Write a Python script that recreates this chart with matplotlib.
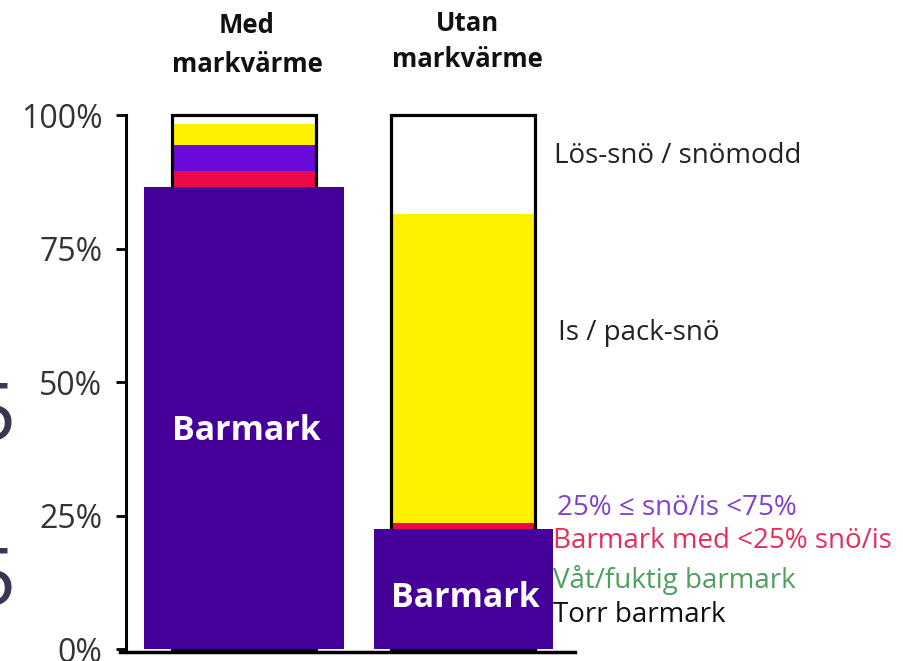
import matplotlib
matplotlib.use("Agg")
import matplotlib.pyplot as plt
import numpy as np

plt.rcParams['font.family'] = ['Open Sans', 'DejaVu Sans']

# ---------------- data ----------------
categories = ["Med\nmarkvärme", "Utan\nmarkvärme"]
barmark = [86.5, 22.5]          # Torr / våt barmark (wide dark bar)
red_seg = [3.0, 1.1]            # Barmark med <25% snö/is
purple_seg = [4.8, 0.0]         # 25% <= snö/is < 75%
yellow_seg = [4.0, 57.8]        # Is / pack-snö
white_seg = [1.7, 18.6]         # Lös-snö / snömodd
yticks = [0, 25, 50, 75, 100]
ytick_labels = ["0%", "25%", "50%", "75%", "100%"]
legend_labels = ["Lös-snö / snömodd", "Is / pack-snö", "25% ≤ snö/is <75%",
                 "Barmark med <25% snö/is", "Våt/fuktig barmark", "Torr barmark"]

# ---------------- style ----------------
W, H = 904, 661
C_BAR = "#46009A"
C_PURPLE = "#6A0ADA"
C_RED = "#EC0A4C"
C_YELLOW = "#FFF200"
wide_w = [0.909, 0.817]
narrow_w = 0.658

fig = plt.figure(figsize=(W / 100, H / 100), dpi=100)
ax = fig.add_axes([120 / W, 9 / H, 455 / W, 545 / H])
ax.set_xlim(-0.566, 1.511)
ax.set_ylim(-0.56, 101.5)

x = np.arange(len(categories))
bottom = np.array(barmark, dtype=float)
for seg, col in [(red_seg, C_RED), (purple_seg, C_PURPLE),
                 (yellow_seg, C_YELLOW), (white_seg, "white")]:
    ax.bar(x, seg, width=narrow_w, bottom=bottom, color=col, zorder=1, linewidth=0)
    bottom = bottom + np.array(seg)
# outline box
ax.bar(x, bottom, width=narrow_w, fill=False, edgecolor="black", linewidth=2.3, zorder=2)
# wide barmark bars
ax.bar(x, barmark, width=wide_w, color=C_BAR, zorder=3, linewidth=0)

# Barmark labels
for xi, yv in zip(x, [39.1, 7.9]):
    ax.text(xi + 0.01, yv, "Barmark", color="white", fontsize=24.5, fontweight="bold",
            ha="center", va="baseline", zorder=4)

# axes styling
for s in ["top", "right"]:
    ax.spines[s].set_visible(False)
ax.spines["left"].set_position(("axes", 6 / 455))
ax.spines["left"].set_bounds(-0.56, 100)
ax.spines["left"].set_linewidth(2.2)
ax.spines["bottom"].set_linewidth(2.5)
ax.set_xticks([])
ax.set_yticks(yticks)
ax.set_yticklabels(ytick_labels, fontsize=23, color="#333333")
ax.tick_params(axis="y", length=7, width=2, pad=10)
for lbl in ax.get_yticklabels():
    lbl.set_y(lbl.get_position()[1])

# headers
hdr_x = [247, 467]
hdr_base = [[33, 72], [31, 67]]
for cat, hx, hb in zip(categories, hdr_x, hdr_base):
    lines = cat.split("\n")
    for ln, yb in zip(lines, hb):
        fig.text(hx / W, 1 - yb / H, ln, ha="center", va="baseline",
                 fontsize=18.5, fontweight="bold", color="#111111")

# right-hand labels
lab_pos = [(554, 163), (558, 340), (557, 515), (553, 548), (553, 588), (553, 622)]
lab_col = ["#222222", "#222222", "#8040D4", "#E2305A", "#4FA060", "#111111"]
for t, (lx, ly), c in zip(legend_labels, lab_pos, lab_col):
    fig.text(lx / W, 1 - ly / H, t, ha="left", va="baseline", fontsize=20, color=c)

# cropped glyph artifacts at left edge
for yb in [440, 605]:
    fig.text(16 / W, 1 - yb / H, "5", ha="right", va="baseline", fontsize=58,
             color="#3A3652")

fig.savefig("out.png", dpi=100)
